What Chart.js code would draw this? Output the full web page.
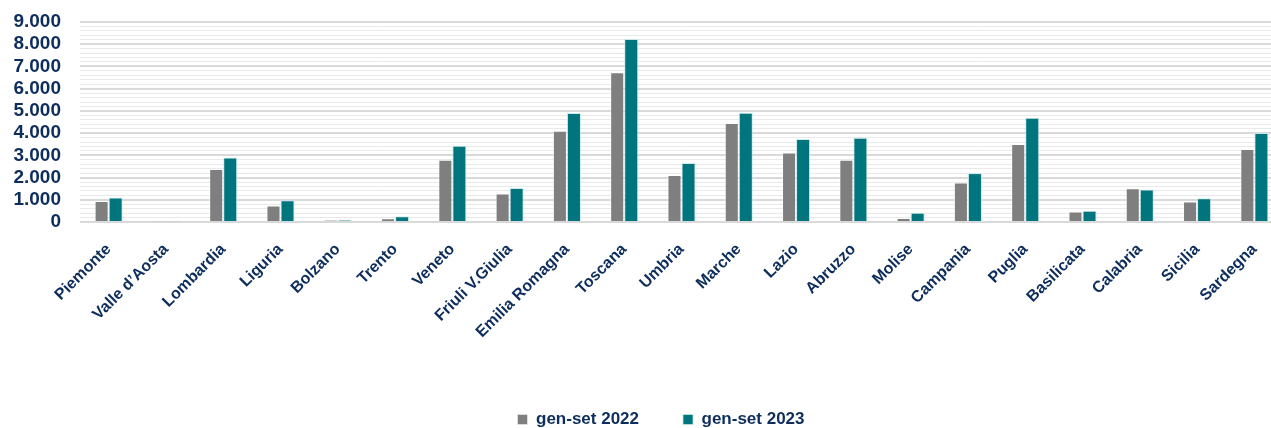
<!DOCTYPE html>
<html>
<head>
<meta charset="utf-8">
<script src="https://cdn.jsdelivr.net/npm/chart.js@4.4.0/dist/chart.umd.min.js"></script>
<style>
  html, body { margin: 0; padding: 0; background: #fff; overflow: hidden; }
  #wrap { width: 1322px; height: 428px; position: relative; }
</style>
</head>
<body>
<div id="wrap"><canvas id="chart"></canvas></div>
<script>
// regioni
const regions = ["Piemonte", "Valle d\u2019Aosta", "Lombardia", "Liguria", "Bolzano", "Trento", "Veneto",
    "Friuli V.Giulia", "Emilia Romagna", "Toscana", "Umbria", "Marche", "Lazio", "Abruzzo", "Molise",
    "Campania", "Puglia", "Basilicata", "Calabria", "Sicilia", "Sardegna"];

const values2022 = [940, 30, 2380, 740, 80, 170, 2800, 1280, 4110, 6740, 2110, 4450, 3130, 2800, 180,
    1780, 3510, 470, 1520, 920, 3280];
const values2023 = [1100, 30, 2900, 980, 80, 260, 3430, 1530, 4900, 8240, 2660, 4920, 3740, 3790, 420,
    2200, 4690, 510, 1460, 1070, 4000];

const seriesLabels = ["gen-set 2022", "gen-set 2023"];
const yMax = 9000;
const yMinorStep = 200;

const textColor = "#0d2d5c";
const fontFamily = "'Liberation Sans', Arial, sans-serif";

const fmt = v => String(v).replace(/\B(?=(\d{3})+(?!\d))/g, ".");

// legend: big item spacing but keep the box short so the items sit low
const legendHeightFix = {
    id: "legendHeightFix",
    afterInit(chart) {
        const lg = chart.legend;
        const fit = lg.fit.bind(lg);
        lg.fit = function () {
            fit();
            this.height = this.options.labels.padding + 17;
        };
    }
};

const ctx = document.getElementById("chart").getContext("2d");
new Chart(ctx, {
    type: "bar",
    data: {
        labels: regions,
        datasets: [
            {
                label: seriesLabels[0],
                data: values2022,
                backgroundColor: "#7f7f7f",
                borderColor: "rgba(255,255,255,0.45)",
                borderWidth: 1
            },
            {
                label: seriesLabels[1],
                data: values2023,
                backgroundColor: "#00757d",
                borderColor: "rgba(190,230,232,0.8)",
                borderWidth: 1
            }
        ]
    },
    options: {
        responsive: true,
        maintainAspectRatio: false,
        animation: false,
        layout: { padding: 0 },
        datasets: {
            bar: { barPercentage: 1, categoryPercentage: 0.49 }
        },
        scales: {
            x: {
                grid: { display: false },
                border: { display: false },
                ticks: {
                    color: textColor,
                    font: { family: fontFamily, size: 16, weight: "bold" },
                    minRotation: 45,
                    maxRotation: 45,
                    autoSkip: false,
                    padding: 10
                },
                afterFit: scale => { scale.height = 145; }
            },
            y: {
                min: 0,
                max: yMax,
                border: { display: false },
                grid: {
                    drawTicks: false,
                    color: c => (c.tick && c.tick.value % 1000 === 0) ? "#d9d9d9" : "#e9e9e9",
                    lineWidth: c => (c.tick && c.tick.value % 1000 === 0) ? 2 : 1
                },
                ticks: {
                    stepSize: yMinorStep,
                    maxTicksLimit: 100,
                    autoSkip: false,
                    padding: 19,
                    color: textColor,
                    font: { family: fontFamily, size: 19, weight: "bold" },
                    callback: v => (v % 1000 === 0 ? fmt(v) : "")
                },
                afterFit: scale => {
                    scale.width = 80;
                    scale.paddingTop = 22;
                }
            },
            // empty strip on the right, the original figure is cut off there
            pad: {
                type: "linear",
                position: "right",
                grid: { display: false },
                border: { display: false },
                ticks: { display: false },
                afterFit: scale => { scale.width = 39; }
            }
        },
        plugins: {
            legend: {
                position: "bottom",
                labels: {
                    color: textColor,
                    font: { family: fontFamily, size: 17, weight: "bold" },
                    boxWidth: 10,
                    boxHeight: 10,
                    padding: 44
                }
            },
            tooltip: { enabled: false }
        }
    },
    plugins: [legendHeightFix]
});
</script>
</body>
</html>
